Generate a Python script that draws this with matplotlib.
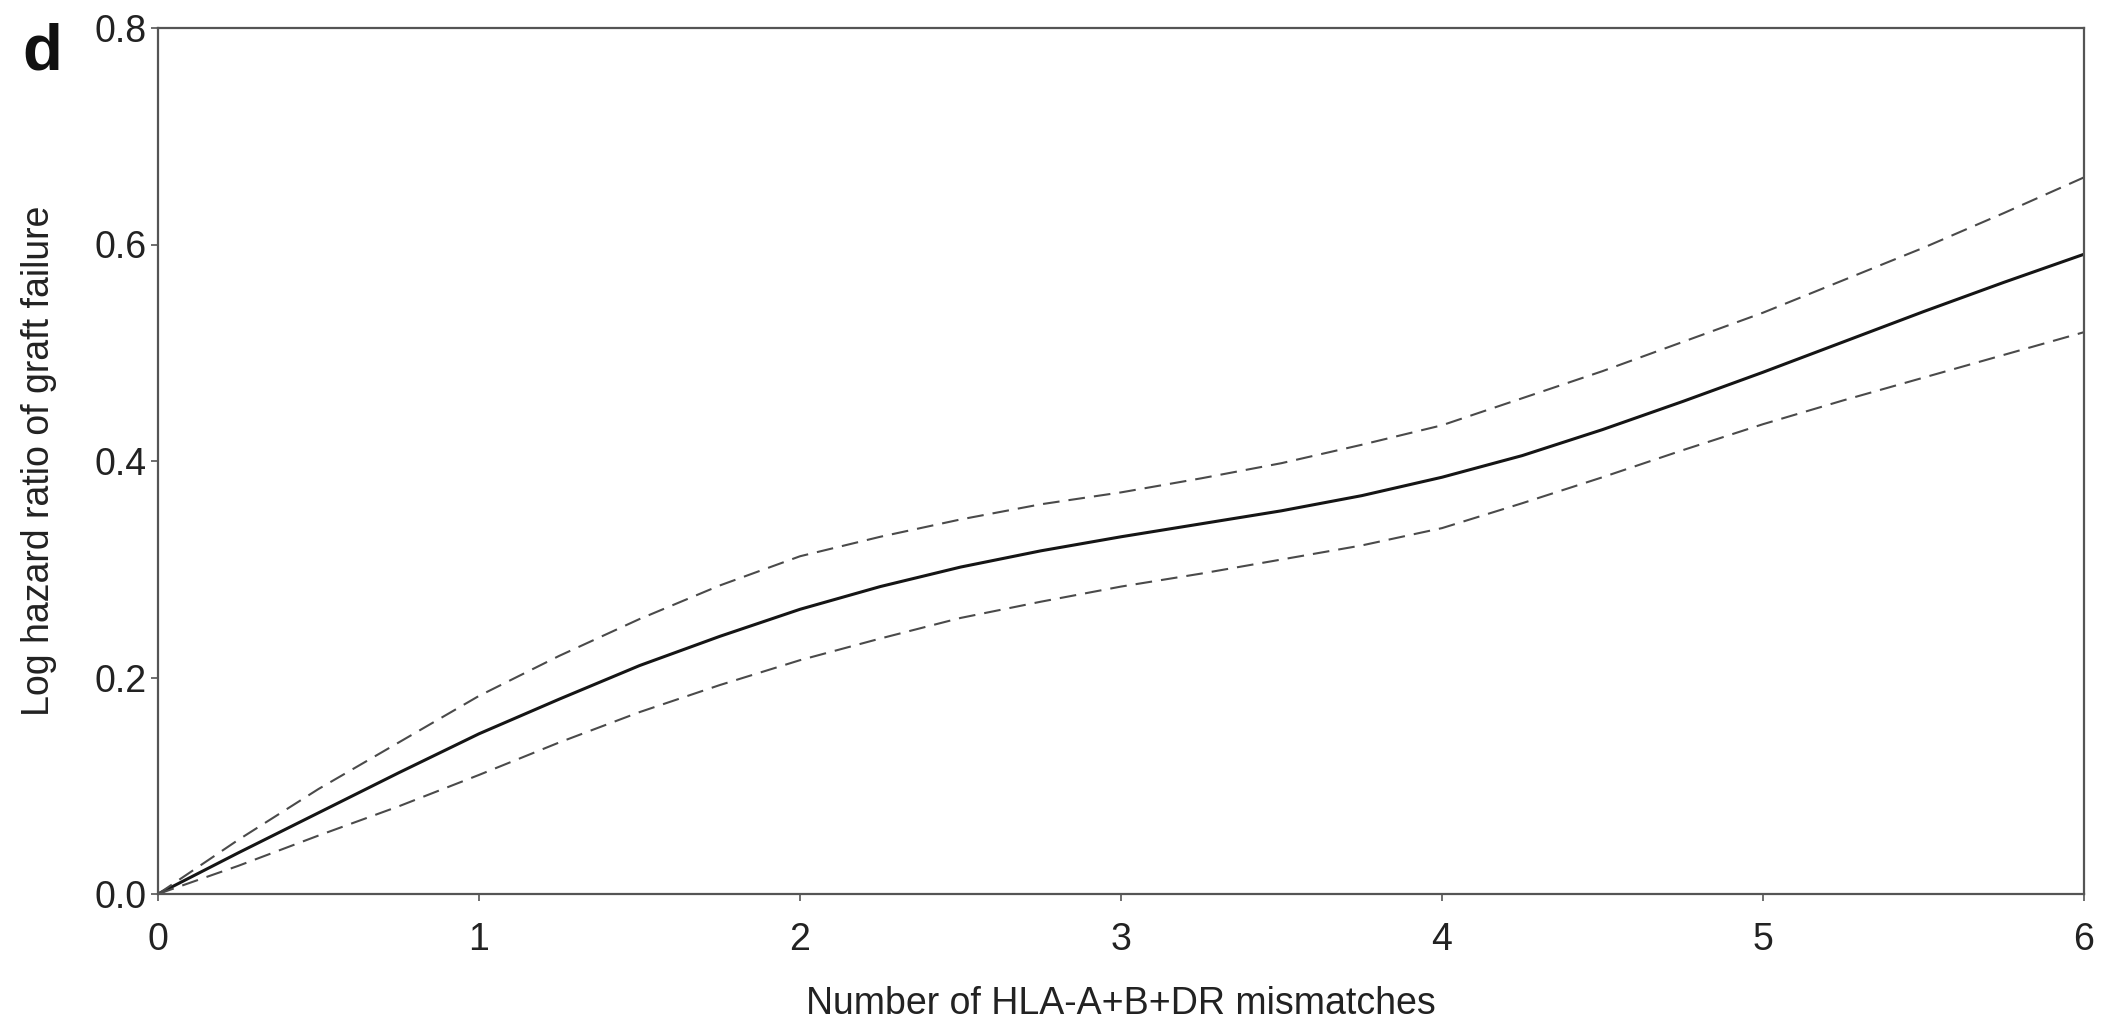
import matplotlib
matplotlib.use("Agg")
import matplotlib.pyplot as plt

plt.rcParams['font.family'] = ['Liberation Sans', 'DejaVu Sans']

# Data
mismatches = [0, 0.25, 0.5, 0.75, 1.0, 1.25, 1.5, 1.75, 2.0, 2.25, 2.5, 2.75, 3.0,
              3.25, 3.5, 3.75, 4.0, 4.25, 4.5, 4.75, 5.0, 5.25, 5.5, 5.75, 6.0]
log_hr   = [0, 0.038, 0.075, 0.112, 0.148, 0.180, 0.211, 0.238, 0.263, 0.284, 0.302, 0.317, 0.330,
            0.342, 0.354, 0.368, 0.385, 0.405, 0.429, 0.455, 0.482, 0.510, 0.538, 0.565, 0.591]
upper_ci = [0, 0.050, 0.097, 0.140, 0.183, 0.220, 0.254, 0.285, 0.312, 0.330, 0.346, 0.360, 0.371,
            0.384, 0.398, 0.415, 0.433, 0.458, 0.483, 0.510, 0.537, 0.567, 0.597, 0.629, 0.662]
lower_ci = [0, 0.026, 0.054, 0.081, 0.110, 0.140, 0.168, 0.193, 0.216, 0.236, 0.255, 0.270, 0.284,
            0.296, 0.309, 0.322, 0.338, 0.361, 0.385, 0.410, 0.434, 0.456, 0.477, 0.498, 0.519]

x_ticks = [0, 1, 2, 3, 4, 5, 6]
y_ticks = [0.0, 0.2, 0.4, 0.6, 0.8]

fig = plt.figure(figsize=(21.02, 10.24), dpi=100)
ax = fig.add_axes([158/2102, 1 - 894/1024, (2084-158)/2102, (894-28)/1024])

ax.plot(mismatches, log_hr, color='#151515', lw=2.2, solid_joinstyle='round')
dash_lw = 1.5
for ci in (upper_ci, lower_ci):
    ax.plot(mismatches, ci, color='#4a4a4a', lw=dash_lw, dashes=(12/dash_lw, 6.5/dash_lw))

ax.set_xlim(0, 6)
ax.set_ylim(0, 0.8)
ax.set_xticks(x_ticks)
ax.set_xticklabels([str(t) for t in x_ticks])
ax.set_yticks(y_ticks)
ax.set_yticklabels([f"{t:.1f}" for t in y_ticks])

for sp in ax.spines.values():
    sp.set_color('#555555')
    sp.set_linewidth(1.6)

ax.tick_params(axis='both', direction='out', length=5, width=1.2, color='#555555',
               labelsize=27, labelcolor='#222222')
ax.tick_params(axis='y', pad=3)
ax.tick_params(axis='x', pad=15)

ax.set_xlabel('Number of HLA-A+B+DR mismatches', fontsize=27, color='#222222', labelpad=20)
ax.set_ylabel('Log hazard ratio of graft failure', fontsize=27, color='#222222', labelpad=27)

fig.text(22/2102, 1 - 53/1024, 'd', fontsize=47, fontweight='bold', color='#111111',
         va='center', ha='left')

fig.savefig('out.png', dpi=100, facecolor='white')
